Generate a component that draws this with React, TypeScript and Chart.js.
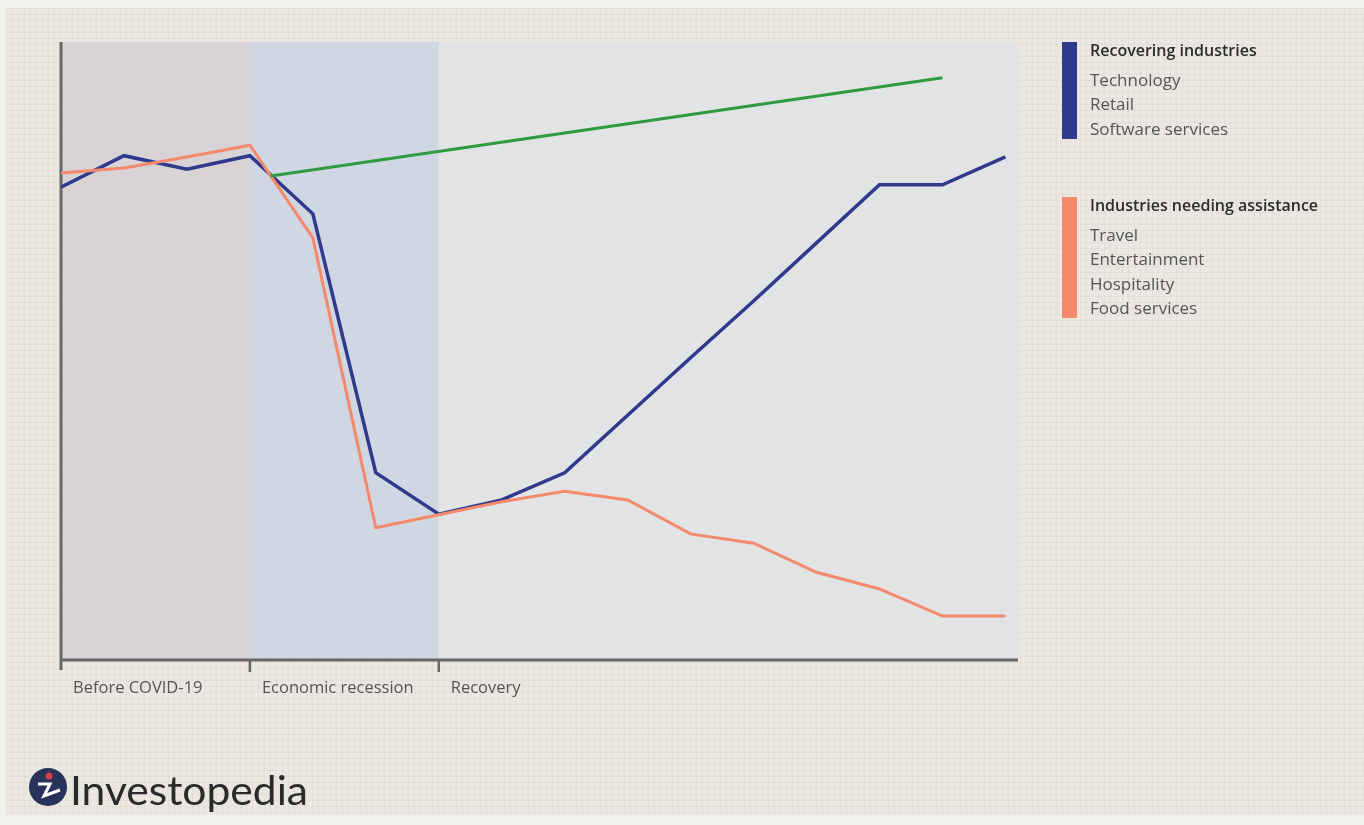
import React, { useEffect, useRef } from "react";
import { Chart, registerables } from "chart.js";

Chart.register(...registerables);

const phaseLabels = ["Before COVID-19", "Economic recession", "Recovery"];
const phaseStarts = [0, 3, 6];
const periods = [0, 1, 2, 3, 4, 5, 6, 7, 8, 9, 10, 11, 12, 13, 14, 15];
const recovering = [76.5, 81.6, 79.4, 81.6, 72.2, 30.3, 23.6, 25.9, 30.3, 39.6, 48.9, 58.1, 67.5, 76.9, 76.9, 81.4];
const assistance = [78.8, 79.6, 81.4, 83.3, 68.3, 21.4, 23.5, 25.6, 27.3, 25.9, 20.4, 18.9, 14.2, 11.5, 7.1, 7.1];
const trendX = [3.33, 14];
const trendY = [78.3, 94.2];
const recoveringTitle = "Recovering industries";
const recoveringItems = ["Technology", "Retail", "Software services"];
const assistanceTitle = "Industries needing assistance";
const assistanceItems = ["Travel", "Entertainment", "Hospitality", "Food services"];
const brand = "Investopedia";

const BLUE = "#2f3a8c";
const ORANGE = "#f4896c";
const GREEN = "#2f9a3f";
const FONT = "'Open Sans', Lato, sans-serif";

const decorPlugin = {
  id: "decor",
  beforeDraw(chart: any) {
    const { ctx, width, height, chartArea } = chart;
    const xs = chart.scales.x;
    ctx.save();
    ctx.fillStyle = "#f3f1ed";
    ctx.fillRect(0, 0, width, height);
    ctx.fillStyle = "#ebe8e2";
    ctx.fillRect(6, 8, width - 6, height - 18);
    // faint grid texture
    ctx.strokeStyle = "rgba(200,195,185,0.18)";
    ctx.lineWidth = 1;
    for (let x = 6; x < width; x += 6) {
      ctx.beginPath();
      ctx.moveTo(x + 0.5, 8);
      ctx.lineTo(x + 0.5, height - 10);
      ctx.stroke();
    }
    for (let y = 8; y < height - 10; y += 6) {
      ctx.beginPath();
      ctx.moveTo(6, y + 0.5);
      ctx.lineTo(width, y + 0.5);
      ctx.stroke();
    }
    // phase shading
    const colors = ["#d9d3d5", "#d0d7e2", "#e2e3e5"];
    const bounds = [...phaseStarts.map((p) => xs.getPixelForValue(p)), chartArea.right];
    for (let i = 0; i < 3; i++) {
      ctx.fillStyle = colors[i];
      ctx.fillRect(bounds[i], chartArea.top, bounds[i + 1] - bounds[i], chartArea.bottom - chartArea.top);
    }
    // axes
    ctx.strokeStyle = "#676767";
    ctx.lineWidth = 3;
    ctx.beginPath();
    ctx.moveTo(chartArea.left, chartArea.top);
    ctx.lineTo(chartArea.left, chartArea.bottom + 10);
    ctx.moveTo(chartArea.left, chartArea.bottom);
    ctx.lineTo(chartArea.right, chartArea.bottom);
    ctx.stroke();
    ctx.lineWidth = 2.5;
    for (let i = 1; i < phaseStarts.length; i++) {
      const px = xs.getPixelForValue(phaseStarts[i]);
      ctx.beginPath();
      ctx.moveTo(px, chartArea.bottom);
      ctx.lineTo(px, chartArea.bottom + 12);
      ctx.stroke();
    }
    // phase labels
    ctx.fillStyle = "#555";
    ctx.font = `16.5px ${FONT}`;
    ctx.textBaseline = "middle";
    ctx.textAlign = "left";
    phaseStarts.forEach((p, i) => {
      ctx.fillText(phaseLabels[i], xs.getPixelForValue(p) + 12, chartArea.bottom + 28);
    });
    ctx.restore();
  },
  afterDraw(chart: any) {
    const { ctx } = chart;
    ctx.save();
    // legend
    const drawGroup = (color: string, title: string, items: string[], top: number, barBottom: number) => {
      ctx.fillStyle = color;
      ctx.fillRect(1062, top, 15, barBottom - top);
      ctx.textBaseline = "middle";
      ctx.textAlign = "left";
      ctx.fillStyle = "#2b2b2b";
      ctx.font = `600 16px ${FONT}`;
      ctx.fillText(title, 1090, top + 9);
      ctx.fillStyle = "#555";
      ctx.font = `17px ${FONT}`;
      items.forEach((it, i) => ctx.fillText(it, 1090, top + 39 + i * 24.5));
    };
    drawGroup(BLUE, recoveringTitle, recoveringItems, 42, 139);
    drawGroup(ORANGE, assistanceTitle, assistanceItems, 197, 318);
    // logo
    const cx = 48, cy = 787, r = 19;
    ctx.fillStyle = "#27335a";
    ctx.beginPath();
    ctx.arc(cx, cy, r, 0, Math.PI * 2);
    ctx.fill();
    ctx.strokeStyle = "#ffffff";
    ctx.lineWidth = 3;
    ctx.beginPath();
    ctx.moveTo(cx - 10, cy - 3);
    ctx.lineTo(cx + 2, cy - 3);
    ctx.lineTo(cx - 4, cy + 9);
    ctx.lineTo(cx + 12, cy + 3);
    ctx.stroke();
    ctx.fillStyle = "#d8404f";
    ctx.beginPath();
    ctx.arc(cx + 1, cy - 11, 3.5, 0, Math.PI * 2);
    ctx.fill();
    ctx.fillStyle = "#2a2a2a";
    ctx.font = `40px Lato, sans-serif`;
    ctx.textBaseline = "alphabetic";
    ctx.textAlign = "left";
    const w = ctx.measureText(brand).width;
    ctx.save();
    ctx.translate(70, 805);
    ctx.scale(238 / w, 1);
    ctx.fillText(brand, 0, 0);
    ctx.restore();
    ctx.restore();
  },
};

export default function App() {
  const ref = useRef<HTMLCanvasElement>(null);
  useEffect(() => {
    document.body.style.margin = "0";
    const chart = new Chart(ref.current!, {
      type: "line",
      data: {
        datasets: [
          {
            label: "Trend",
            data: trendX.map((x, i) => ({ x, y: trendY[i] })),
            borderColor: GREEN,
            borderWidth: 3,
            pointRadius: 0,
          },
          {
            label: assistanceTitle,
            data: periods.map((x, i) => ({ x, y: assistance[i] })),
            borderColor: ORANGE,
            borderWidth: 3,
            pointRadius: 0,
          },
          {
            label: recoveringTitle,
            data: periods.map((x, i) => ({ x, y: recovering[i] })),
            borderColor: BLUE,
            borderWidth: 3.5,
            pointRadius: 0,
          },
        ],
      },
      options: {
        responsive: false,
        animation: false,
        layout: { padding: { left: 61, top: 42, right: 346, bottom: 165 } },
        plugins: { legend: { display: false }, tooltip: { enabled: false } },
        scales: {
          x: { type: "linear", min: 0, max: 15.2, display: false },
          y: { type: "linear", min: 0, max: 100, display: false },
        },
      },
      plugins: [decorPlugin],
    });
    return () => chart.destroy();
  }, []);
  return <canvas ref={ref} width={1364} height={825} style={{ display: "block" }} />;
}
